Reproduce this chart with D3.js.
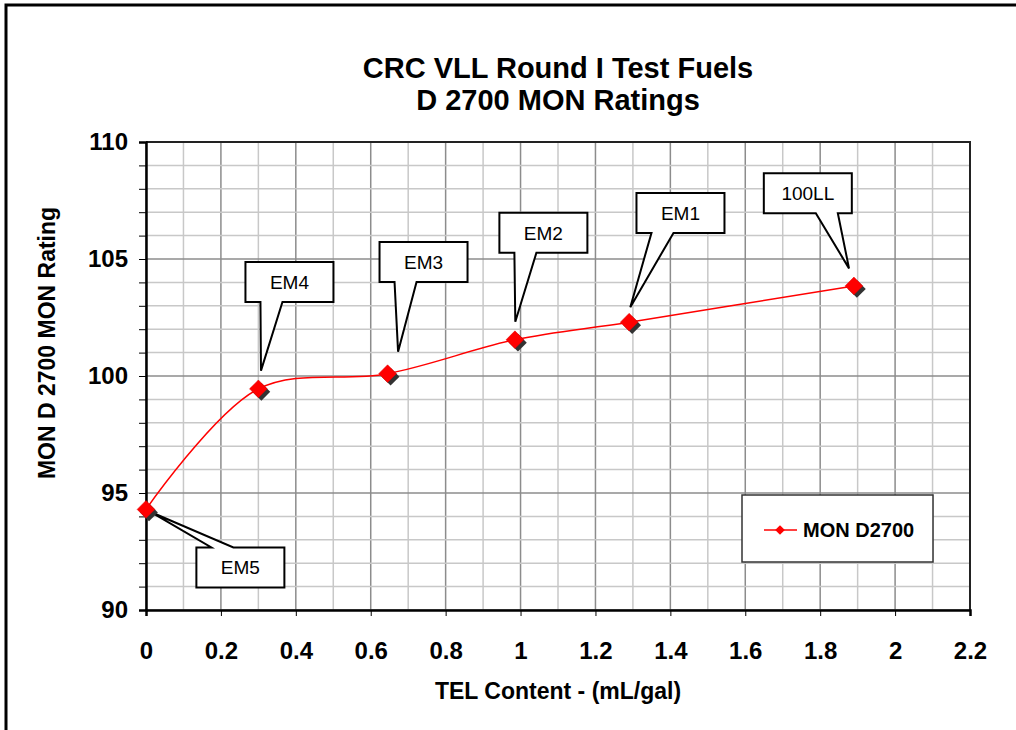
<!DOCTYPE html>
<html>
<head>
<meta charset="utf-8">
<script src="https://cdn.jsdelivr.net/npm/d3@7"></script>
<style>
  body { margin: 0; background: #fff; }
  svg { display: block; font-family: 'Liberation Sans', Arial, sans-serif; }
</style>
</head>
<body>
<script>
// DATA
const fuels = ['EM5', 'EM4', 'EM3', 'EM2', 'EM1', '100LL'];
const telContent = [0, 0.3, 0.645, 0.985, 1.29, 1.89];
const monRating = [94.3, 99.45, 100.1, 101.55, 102.3, 103.85];

// callout box centres and pointer tips, in data units
const boxX = [0.252, 0.383, 0.741, 1.061, 1.427, 1.767];
const boxY = [91.82, 104.02, 104.87, 106.12, 106.97, 107.81];
const tipX = [0.011, 0.307, 0.673, 0.986, 1.293, 1.877];
const tipY = [94.2, 100.23, 101.04, 102.32, 102.94, 104.6];

const xTicks = [0, 0.2, 0.4, 0.6, 0.8, 1, 1.2, 1.4, 1.6, 1.8, 2, 2.2];
const yTicks = [90, 95, 100, 105, 110];

const width = 1016;
const height = 730;
const plotLeft = 146, plotRight = 970, plotTop = 142, plotBottom = 610;

const svg = d3.select('body')
  .append('svg')
  .attr('width', width)
  .attr('height', height);

// outer frame
svg.append('path')
  .attr('d', `M6,${height + 5} L6,5 L${width + 5},5`)
  .attr('fill', 'none')
  .attr('stroke', '#000')
  .attr('stroke-width', 3);

// SCALES
const x = d3.scaleLinear().domain([0, 2.2]).range([plotLeft, plotRight]);
const y = d3.scaleLinear().domain([90, 110]).range([plotBottom, plotTop]);

// GRID
const grid = svg.append('g');
const xMinor = d3.range(0, 23).map(i => i / 10);
const yMinor = d3.range(90, 111);

grid.selectAll('.vgrid')
  .data(xMinor)
  .enter()
  .append('line')
  .attr('x1', d => x(d)).attr('x2', d => x(d))
  .attr('y1', plotTop).attr('y2', plotBottom)
  .attr('stroke', (d, i) => i % 2 === 0 ? '#8c8c8c' : '#c8c8c8')
  .attr('stroke-width', 1.5);

grid.selectAll('.hgrid')
  .data(yMinor)
  .enter()
  .append('line')
  .attr('x1', plotLeft).attr('x2', plotRight)
  .attr('y1', d => y(d)).attr('y2', d => y(d))
  .attr('stroke', d => yTicks.includes(d) ? '#8c8c8c' : '#c8c8c8')
  .attr('stroke-width', 1.5);

// plot border (top + right)
svg.append('path')
  .attr('d', `M${plotLeft},${plotTop} L${plotRight},${plotTop} L${plotRight},${plotBottom}`)
  .attr('fill', 'none')
  .attr('stroke', '#222')
  .attr('stroke-width', 2);

// AXES
const yAxis = d3.axisLeft(y)
  .tickValues(yMinor)
  .tickSize(7)
  .tickPadding(11)
  .tickFormat(d => yTicks.includes(d) ? d : '');

const xAxis = d3.axisBottom(x)
  .tickValues(xTicks)
  .tickSize(6)
  .tickPadding(26)
  .tickFormat(d => String(+d.toFixed(1)));

const gx = svg.append('g')
  .attr('transform', `translate(0,${plotBottom})`)
  .call(xAxis);

const gy = svg.append('g')
  .attr('transform', `translate(${plotLeft},0)`)
  .call(yAxis);

[gx, gy].forEach(g => {
  g.select('.domain').attr('stroke', '#000').attr('stroke-width', 2.5);
  g.selectAll('.tick line').attr('stroke', '#000').attr('stroke-width', 1);
  g.selectAll('.tick text')
    .attr('fill', '#000')
    .style('font-family', "'Liberation Sans', Arial, sans-serif")
    .style('font-size', '24px')
    .style('font-weight', 'bold');
});

// LINE
const points = telContent.map((d, i) => [x(d), y(monRating[i])]);

svg.append('path')
  .datum(points)
  .attr('d', d3.line().curve(d3.curveCatmullRom.alpha(0.5)))
  .attr('fill', 'none')
  .attr('stroke', '#ff0000')
  .attr('stroke-width', 1.5);

// CALLOUTS
const boxW = 88, boxH = 40;
const callouts = svg.append('g');

fuels.forEach((name, i) => {
  const cx = x(boxX[i]);
  const cy = y(boxY[i]);
  const tx = x(tipX[i]);
  const ty = y(tipY[i]);
  const l = cx - boxW / 2, r = cx + boxW / 2;
  const t = cy - boxH / 2, b = cy + boxH / 2;
  const b1 = tx > cx ? l + 52 : l + 15;
  const b2 = b1 + 22;
  let d;
  if (ty < t) {
    d = `M${l},${t} L${b1},${t} L${tx},${ty} L${b2},${t} L${r},${t} L${r},${b} L${l},${b} Z`;
  } else {
    d = `M${l},${t} L${r},${t} L${r},${b} L${b2},${b} L${tx},${ty} L${b1},${b} L${l},${b} Z`;
  }
  callouts.append('path')
    .attr('d', d)
    .attr('fill', '#fff')
    .attr('stroke', '#000')
    .attr('stroke-width', 2)
    .attr('stroke-linejoin', 'miter');
  callouts.append('text')
    .attr('x', cx)
    .attr('y', cy + 7)
    .attr('text-anchor', 'middle')
    .style('font-size', '19px')
    .text(name);
});

// MARKERS
const diamond = d3.symbol().type(d3.symbolDiamond2).size(200);
const markers = svg.append('g');

markers.selectAll('.shadow')
  .data(points)
  .enter()
  .append('path')
  .attr('d', diamond)
  .attr('transform', d => `translate(${d[0] + 3},${d[1] + 3})`)
  .attr('fill', '#333');

markers.selectAll('.dot')
  .data(points)
  .enter()
  .append('path')
  .attr('d', diamond)
  .attr('transform', d => `translate(${d[0]},${d[1]})`)
  .attr('fill', '#ff0000')
  .attr('stroke', '#e00000')
  .attr('stroke-width', 0.5);

// LEGEND
const legend = svg.append('g').attr('transform', 'translate(742,495)');
legend.append('rect')
  .attr('width', 191)
  .attr('height', 67)
  .attr('fill', '#fff')
  .attr('stroke', '#333')
  .attr('stroke-width', 1.5);
legend.append('line')
  .attr('x1', 22).attr('x2', 55)
  .attr('y1', 35).attr('y2', 35)
  .attr('stroke', '#ff0000')
  .attr('stroke-width', 1.5);
legend.append('path')
  .attr('d', d3.symbol().type(d3.symbolDiamond2).size(60))
  .attr('transform', 'translate(38,35)')
  .attr('fill', '#ff0000');
legend.append('text')
  .attr('x', 61)
  .attr('y', 42)
  .style('font-size', '20px')
  .style('font-weight', 'bold')
  .text('MON D2700');

// TITLES
svg.append('text')
  .attr('x', 558)
  .attr('y', 78)
  .attr('text-anchor', 'middle')
  .style('font-size', '29px')
  .style('font-weight', 'bold')
  .text('CRC VLL Round I Test Fuels');

svg.append('text')
  .attr('x', 558)
  .attr('y', 110)
  .attr('text-anchor', 'middle')
  .style('font-size', '29px')
  .style('font-weight', 'bold')
  .text('D 2700 MON Ratings');

svg.append('text')
  .attr('x', 558)
  .attr('y', 699)
  .attr('text-anchor', 'middle')
  .style('font-size', '23px')
  .style('font-weight', 'bold')
  .text('TEL Content - (mL/gal)');

svg.append('text')
  .attr('transform', 'translate(55,343) rotate(-90)')
  .attr('text-anchor', 'middle')
  .style('font-size', '23px')
  .style('font-weight', 'bold')
  .text('MON D 2700 MON Rating');
</script>
</body>
</html>
